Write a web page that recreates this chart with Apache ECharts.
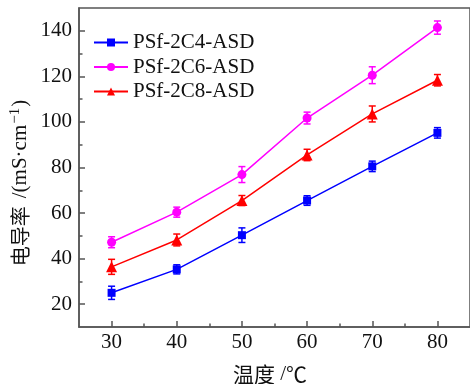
<!DOCTYPE html>
<html>
<head>
<meta charset="utf-8">
<script src="https://cdn.jsdelivr.net/npm/echarts@6/dist/echarts.min.js"></script>
<style>
  html, body { margin: 0; padding: 0; background: #fff; }
  #chart { width: 470px; height: 384px; }
</style>
</head>
<body>
<div id="chart"></div>
<script>
// temperatures (℃)
const temps = [30, 40, 50, 60, 70, 80]

const seriesNames = ['PSf-2C4-ASD', 'PSf-2C6-ASD', 'PSf-2C8-ASD']

// conductivity (mS·cm-1)
const c4Values = [25.0, 35.3, 50.3, 65.5, 80.5, 95.2]
const c6Values = [47.2, 60.4, 76.9, 101.7, 120.5, 141.4]
const c8Values = [36.4, 48.2, 65.5, 85.5, 103.5, 118.3]

// error bar half-widths
const c4Err = [2.9, 2.0, 3.2, 2.1, 2.3, 2.3]
const c6Err = [2.4, 2.2, 3.5, 2.6, 3.7, 2.9]
const c8Err = [3.3, 2.6, 2.2, 2.5, 3.5, 2.5]

const yMajorTicks = [20, 40, 60, 80, 100, 120, 140]
const yMinorTicks = [30, 50, 70, 90, 110, 130]
const xMajorTicks = [30, 40, 50, 60, 70, 80]
const xMinorTicks = [35, 45, 55, 65, 75]

const colors = ['#0000ff', '#ff00ff', '#ff0000']
const symbols = ['rect', 'circle', 'triangle']
const symbolSizes = [8, 9, 11]
const valueSets = [c4Values, c6Values, c8Values]
const errSets = [c4Err, c6Err, c8Err]

const serif = 'Liberation Serif'
const cjk = 'Noto Sans CJK SC'
const axisColor = '#555'
const textColor = '#111'

const chart = echarts.init(document.getElementById('chart'))

const lineSeries = valueSets.map((vals, i) => ({
  name: seriesNames[i],
  type: 'line',
  data: temps.map((t, j) => [t, vals[j]]),
  symbol: symbols[i],
  symbolSize: symbolSizes[i],
  color: colors[i],
  lineStyle: { color: colors[i], width: 1.5 },
  itemStyle: { color: colors[i] },
  z: 3
}))

// error bars drawn through the axes
const errorSeries = valueSets.map((vals, i) => ({
  type: 'custom',
  name: seriesNames[i] + '-err',
  data: temps.map((t, j) => [t, vals[j] - errSets[i][j], vals[j] + errSets[i][j]]),
  renderItem: (params, api) => {
    const lo = api.coord([api.value(0), api.value(1)])
    const hi = api.coord([api.value(0), api.value(2)])
    const w = 3.5
    const style = { stroke: colors[i], lineWidth: 1.5 }
    return {
      type: 'group',
      children: [
        { type: 'line', shape: { x1: lo[0], y1: lo[1], x2: hi[0], y2: hi[1] }, style },
        { type: 'line', shape: { x1: lo[0] - w, y1: lo[1], x2: lo[0] + w, y2: lo[1] }, style },
        { type: 'line', shape: { x1: hi[0] - w, y1: hi[1], x2: hi[0] + w, y2: hi[1] }, style }
      ]
    }
  },
  z: 4,
  silent: true
}))

const option = {
  animation: false,
  backgroundColor: '#fff',
  textStyle: { fontFamily: serif, fontSize: 21, color: textColor },
  grid: {
    left: 79,
    top: 8,
    width: 394,
    height: 319,
    show: true,
    borderColor: axisColor,
    borderWidth: 1.5
  },
  legend: {
    data: seriesNames,
    orient: 'vertical',
    left: 88,
    top: 27,
    itemWidth: 34,
    itemHeight: 10,
    itemGap: 3.5,
    textStyle: { fontFamily: serif, fontSize: 21, color: textColor }
  },
  xAxis: [
    {
      type: 'value',
      min: 25,
      max: 85,
      position: 'bottom',
      axisLine: { show: true, lineStyle: { color: axisColor, width: 1.5 } },
      axisTick: { show: true, inside: true, length: 6, customValues: xMajorTicks, lineStyle: { color: axisColor, width: 1.5 } },
      axisLabel: { customValues: xMajorTicks, fontFamily: serif, fontSize: 21, color: textColor, margin: 5 },
      splitLine: { show: false }
    },
    {
      type: 'value',
      min: 25,
      max: 85,
      position: 'bottom',
      axisLine: { show: false },
      axisTick: { show: true, inside: true, length: 3.5, customValues: xMinorTicks, lineStyle: { color: axisColor, width: 1.5 } },
      axisLabel: { show: false },
      splitLine: { show: false }
    }
  ],
  yAxis: [
    {
      type: 'value',
      min: 10,
      max: 150,
      position: 'left',
      axisLine: { show: true, lineStyle: { color: axisColor, width: 1.5 } },
      axisTick: { show: true, inside: true, length: 6, customValues: yMajorTicks, lineStyle: { color: axisColor, width: 1.5 } },
      axisLabel: { customValues: yMajorTicks, fontFamily: serif, fontSize: 21, color: textColor, margin: 7 },
      splitLine: { show: false }
    },
    {
      type: 'value',
      min: 10,
      max: 150,
      position: 'left',
      axisLine: { show: false },
      axisTick: { show: true, inside: true, length: 3.5, customValues: yMinorTicks, lineStyle: { color: axisColor, width: 1.5 } },
      axisLabel: { show: false },
      splitLine: { show: false }
    }
  ],
  graphic: [
    {
      type: 'text',
      x: 20,
      y: 183,
      rotation: Math.PI / 2,
      style: {
        text: '{c|电导率}{g| }{t|/(mS·cm}{s|−1}{t|)}',
        align: 'center',
        verticalAlign: 'middle',
        fill: textColor,
        fontFamily: serif,
        fontSize: 21,
        rich: {
          c: { fontFamily: cjk, fontSize: 20, lineHeight: 24 },
          g: { width: 8, lineHeight: 24 },
          t: { fontFamily: serif, fontSize: 21, lineHeight: 24 },
          s: { fontFamily: serif, fontSize: 15, lineHeight: 24, verticalAlign: 'top', padding: [0, 1, 9, 1] }
        }
      }
    },
    {
      type: 'text',
      x: 270,
      y: 374,
      style: {
        text: '{c|温度} {t|/}{c|℃}',
        align: 'center',
        verticalAlign: 'middle',
        fill: textColor,
        fontFamily: serif,
        fontSize: 21,
        rich: {
          c: { fontFamily: cjk, fontSize: 21 },
          t: { fontFamily: serif, fontSize: 21 }
        }
      }
    }
  ],
  series: [...lineSeries, ...errorSeries]
}

chart.setOption(option)
</script>
</body>
</html>
